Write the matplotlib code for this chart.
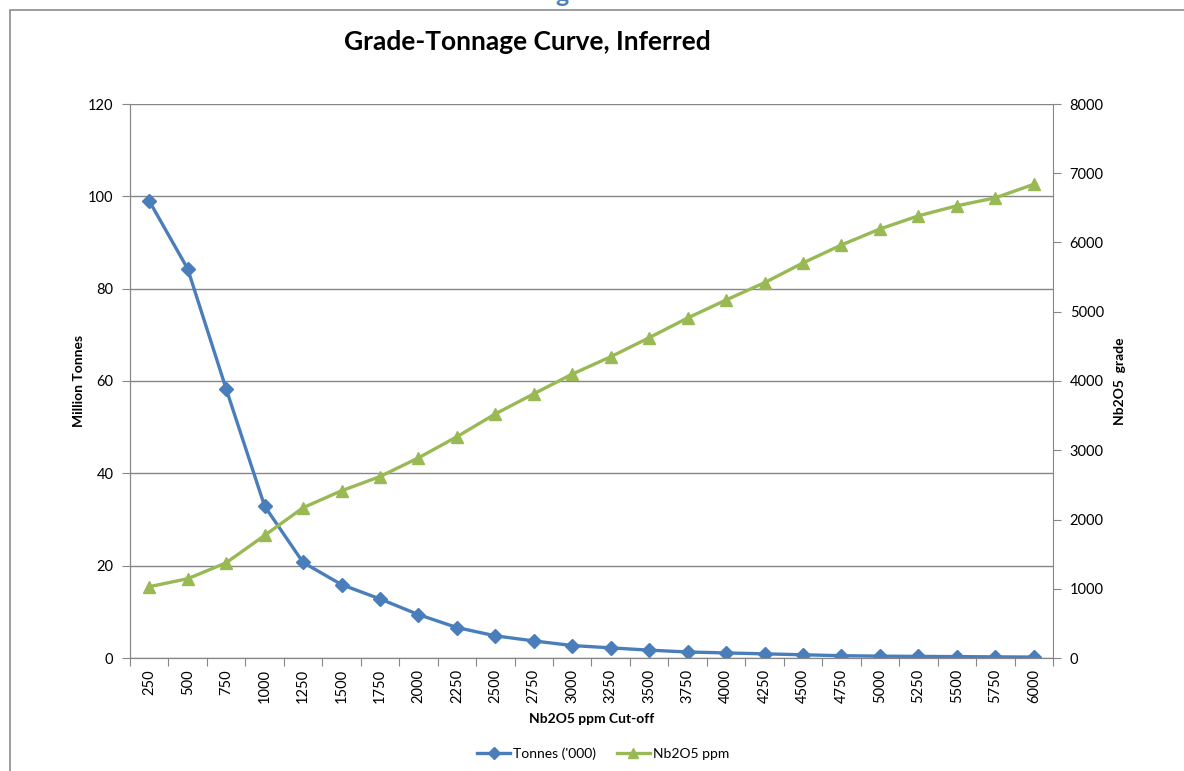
import matplotlib
matplotlib.use("Agg")
import matplotlib.pyplot as plt
from matplotlib.patches import Rectangle
from matplotlib.lines import Line2D

plt.rcParams['font.family'] = ['Lato', 'DejaVu Sans']

cutoffs = [250, 500, 750, 1000, 1250, 1500, 1750, 2000, 2250, 2500, 2750, 3000,
           3250, 3500, 3750, 4000, 4250, 4500, 4750, 5000, 5250, 5500, 5750, 6000]
tonnes = [99.0, 84.3, 58.3, 32.9, 20.7, 15.9, 12.8, 9.4, 6.6, 4.8, 3.7, 2.7,
          2.2, 1.7, 1.3, 1.1, 0.9, 0.7, 0.5, 0.4, 0.35, 0.3, 0.25, 0.2]
grade = [1030, 1145, 1375, 1770, 2170, 2415, 2620, 2890, 3195, 3525, 3815, 4100,
         4350, 4625, 4910, 5170, 5420, 5705, 5965, 6195, 6385, 6530, 6645, 6840]
left_ticks = [0, 20, 40, 60, 80, 100, 120]
right_ticks = [0, 1000, 2000, 3000, 4000, 5000, 6000, 7000, 8000]

BLUE = '#4A7EBB'
GREEN = '#98B954'
GRID = '#868686'

W, H = 1184, 771
fig = plt.figure(figsize=(W / 100, H / 100), dpi=100)

# outer chart frame
fig.patches.append(Rectangle((10 / W, -0.1), 1.2, (H - 10) / H + 0.1,
                             transform=fig.transFigure, fill=False,
                             edgecolor='#8C8C8C', linewidth=1.2))
fig.text(562 / W, 1 + 6 / H, 'g', color='#4F81BD', fontsize=18, fontweight='bold',
         ha='center', va='center')

x0, x1, ytop, ybot = 130, 1053, 104, 658
ax = fig.add_axes([x0 / W, 1 - ybot / H, (x1 - x0) / W, (ybot - ytop) / H])
ax2 = ax.twinx()

xs = list(range(len(cutoffs)))
ax.plot(xs, tonnes, color=BLUE, lw=2.4, marker='D', ms=7.5, zorder=3)
ax2.plot(xs, grade, color=GREEN, lw=2.4, marker='^', ms=9, zorder=3)

ax.set_xlim(-0.5, len(cutoffs) - 0.5)
ax.set_ylim(0, 120)
ax2.set_ylim(0, 8000)
ax.set_yticks(left_ticks)
ax2.set_yticks(right_ticks)

ax.set_xticks([i - 0.5 for i in range(len(cutoffs) + 1)])
ax.set_xticklabels([])
ax.set_xticks(xs, minor=True)
ax.set_xticklabels([str(c) for c in cutoffs], minor=True, rotation=90, fontsize=10.5)
ax.tick_params(axis='x', which='major', length=6, color=GRID, direction='out')
ax.tick_params(axis='x', which='minor', length=0, pad=8)
ax.tick_params(axis='y', length=6, color=GRID, labelsize=10.5, pad=6)
ax2.tick_params(axis='y', length=6, color=GRID, labelsize=10.5, pad=6)

ax.grid(axis='y', color=GRID, lw=1.0)
ax.set_axisbelow(True)
for a in (ax, ax2):
    a.spines['top'].set_visible(False)
    for s in ('left', 'right', 'bottom'):
        a.spines[s].set_color(GRID)
ax.spines['right'].set_visible(False)

ax.set_ylabel('Million Tonnes', fontsize=10, fontweight='bold', labelpad=2)
ax2.set_ylabel('Nb2O5  grade', fontsize=10, fontweight='bold', labelpad=7)
ax.set_xlabel('Nb2O5 ppm Cut-off', fontsize=10, fontweight='bold', labelpad=7)

fig.text(527 / W, 1 - 42 / H, 'Grade-Tonnage Curve, Inferred', fontsize=19,
         fontweight='bold', ha='center', va='center')

handles = [Line2D([], [], color=BLUE, lw=2.4, marker='D', ms=6),
           Line2D([], [], color=GREEN, lw=2.4, marker='^', ms=7)]
fig.legend(handles, ["Tonnes ('000)", 'Nb2O5 ppm'], loc='center',
           bbox_to_anchor=(603 / W, 1 - 754 / H), ncol=2, frameon=False,
           fontsize=10, handlelength=2.4, handletextpad=0.2, columnspacing=1.5)

fig.savefig('out.png', dpi=100)
